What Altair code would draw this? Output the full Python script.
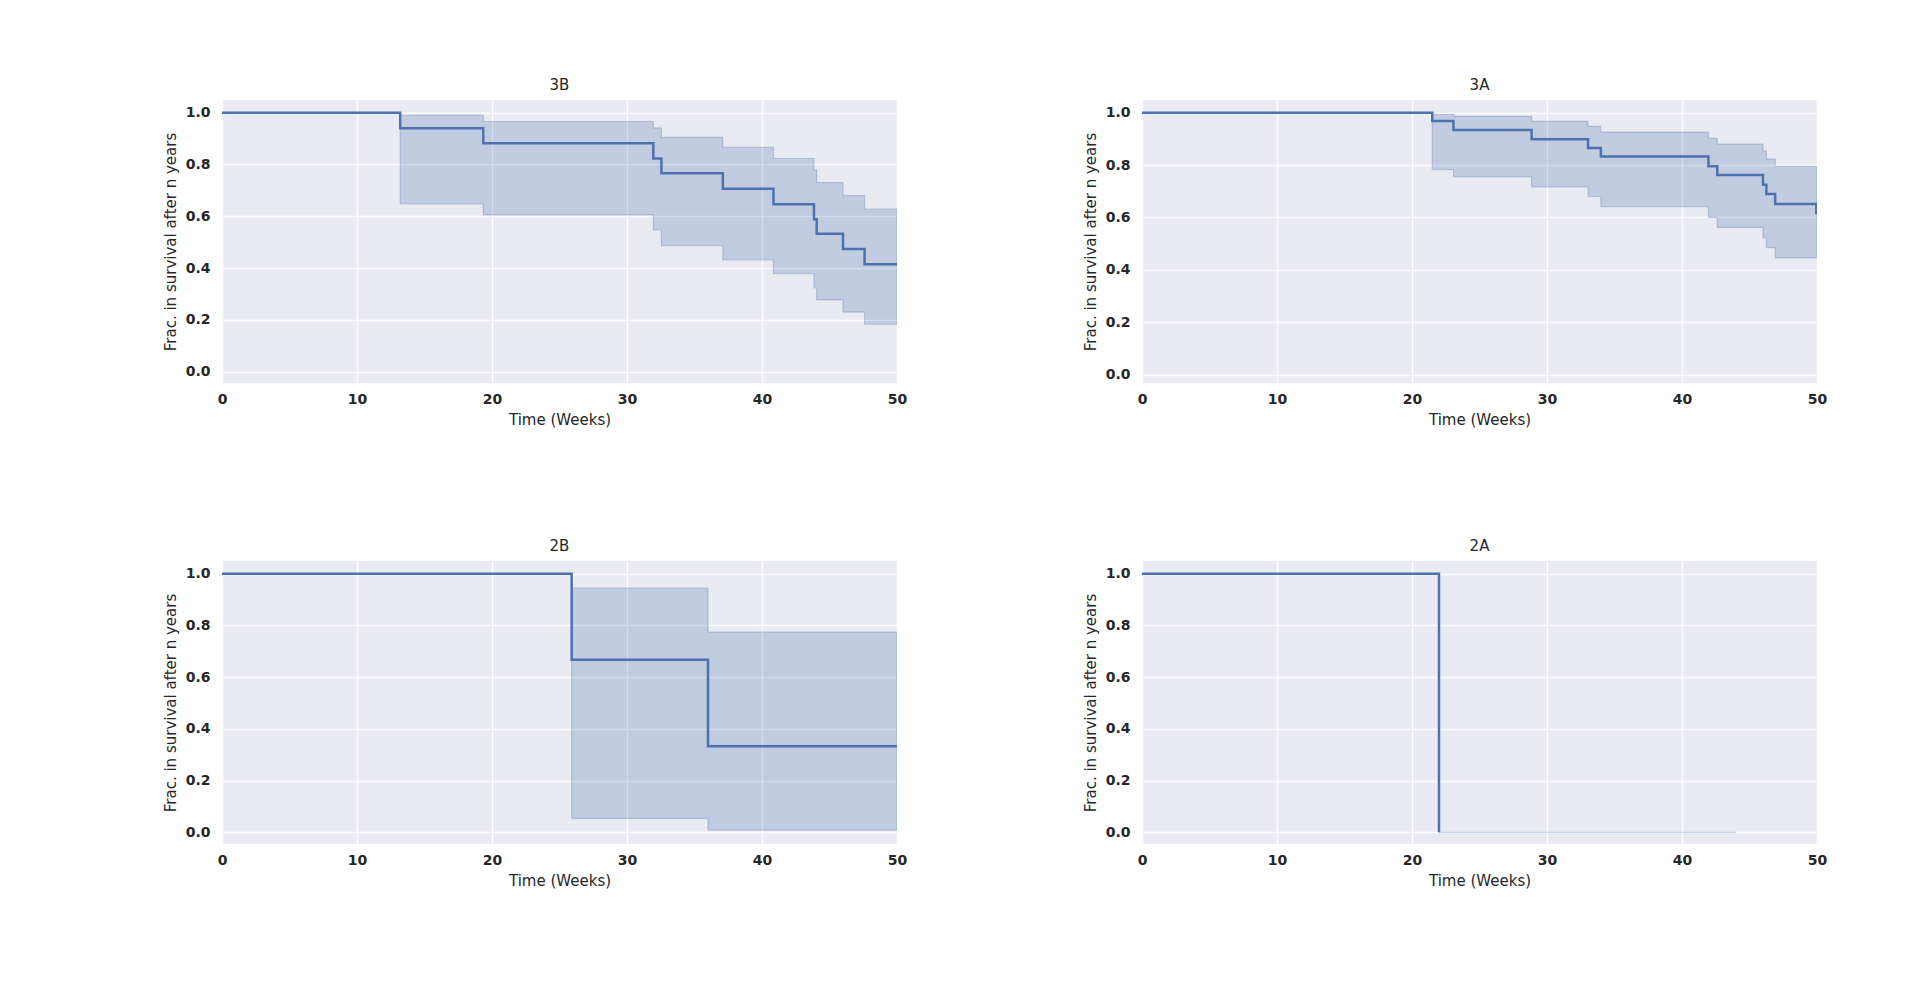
import altair as alt
import pandas as pd

# ---- data ----
t3B = [0, 13.2, 19.35, 31.95, 32.55, 37.1, 40.85, 43.85, 44.05, 46.0, 47.6, 50]
s3B = [1.0, 0.94, 0.882, 0.823, 0.766, 0.706, 0.646, 0.588, 0.532, 0.474, 0.415, 0.415]
up3B = [1.0, 0.991, 0.966, 0.941, 0.905, 0.866, 0.823, 0.779, 0.730, 0.680, 0.628, 0.628]
lo3B = [1.0, 0.648, 0.605, 0.547, 0.486, 0.431, 0.378, 0.323, 0.277, 0.230, 0.183, 0.183]

t3A = [0, 21.5, 23.07, 28.86, 33.04, 33.99, 41.96, 42.61, 46.0, 46.25, 46.9, 49.95, 50]
s3A = [1.0, 0.968, 0.934, 0.899, 0.865, 0.833, 0.796, 0.762, 0.725, 0.690, 0.651, 0.618, 0.618]
up3A = [1.0, 0.994, 0.986, 0.967, 0.948, 0.926, 0.902, 0.880, 0.854, 0.823, 0.795, 0.795, 0.795]
lo3A = [1.0, 0.783, 0.755, 0.717, 0.680, 0.641, 0.600, 0.562, 0.522, 0.485, 0.446, 0.446, 0.446]

t2B = [0, 25.9, 36.0, 50]
s2B = [1.0, 0.667, 0.333, 0.333]
up2B = [1.0, 0.944, 0.774, 0.774]
lo2B = [1.0, 0.054, 0.009, 0.009]

t2A_line = [0, 22.0]
s2A_line = [1.0, 0.0]
t2A_band = [0, 22.0, 44.0]
up2A = [1.0, 0.0, 0.0]
lo2A = [1.0, 0.0, 0.0]

x_ticks = [0, 10, 20, 30, 40, 50]
y_ticks = [0.0, 0.2, 0.4, 0.6, 0.8, 1.0]

BLUE = "#4C72B0"
TXT = "#262626"
FONT = "DejaVu Sans"


def panel(title, t_line, s_line, t_band, up, lo, ydom):
    line_df = pd.DataFrame({"t": t_line, "s": s_line})
    band_df = pd.DataFrame({"t": t_band, "up": up, "lo": lo})
    xsc = alt.Scale(domain=[0, 50], nice=False, zero=False)
    ysc = alt.Scale(domain=ydom, nice=False, zero=False)
    xax = alt.Axis(values=x_ticks, format="d", title="Time (Weeks)")
    yax = alt.Axis(values=y_ticks, format=".1f", title="Frac. in survival after n years")
    band = alt.Chart(band_df).mark_area(
        interpolate="step-after", fill=BLUE, fillOpacity=0.25,
        stroke=BLUE, strokeWidth=1.2, strokeOpacity=0.3, clip=True
    ).encode(
        x=alt.X("t:Q", scale=xsc, axis=xax),
        y=alt.Y("lo:Q", scale=ysc, axis=yax),
        y2="up:Q",
    )
    line = alt.Chart(line_df).mark_line(
        interpolate="step-after", color=BLUE, strokeWidth=2.5, clip=True
    ).encode(
        x=alt.X("t:Q", scale=xsc),
        y=alt.Y("s:Q", scale=ysc),
    )
    return alt.layer(band, line).properties(
        width=675, height=283,
        title=alt.TitleParams(title, fontSize=15, font=FONT, color=TXT,
                              fontWeight="normal", offset=7),
    )


p3B = panel("3B", t3B, s3B, t3B, up3B, lo3B, [-0.044, 1.049])
p3A = panel("3A", t3A, s3A, t3A, up3A, lo3A, [-0.032, 1.0485])
p2B = panel("2B", t2B, s2B, t2B, up2B, lo2B, [-0.045, 1.049])
p2A = panel("2A", t2A_line, s2A_line, t2A_band, up2A, lo2A, [-0.045, 1.049])

chart = alt.concat(
    p3B, p3A, p2B, p2A, columns=2,
    spacing={"row": 178, "column": 245}, bounds="flush",
).properties(
    padding={"left": 155, "top": 70, "right": 10, "bottom": 10},
    background="white",
).configure_view(
    fill="#EAEAF2", stroke=None
).configure_axis(
    grid=True, gridColor="white", gridWidth=1.4,
    domain=False, ticks=False, tickSize=0, labelFlush=False,
    labelFont=FONT, labelFontSize=14, labelFontWeight="bold", labelColor=TXT,
    titleFont=FONT, titleFontSize=15, titleFontWeight="normal", titleColor=TXT,
).configure_axisX(
    labelPadding=9, titlePadding=6,
).configure_axisY(
    labelPadding=12, titlePadding=7,
)

chart.save("out.html", embed_options={"renderer": "svg", "actions": False})
